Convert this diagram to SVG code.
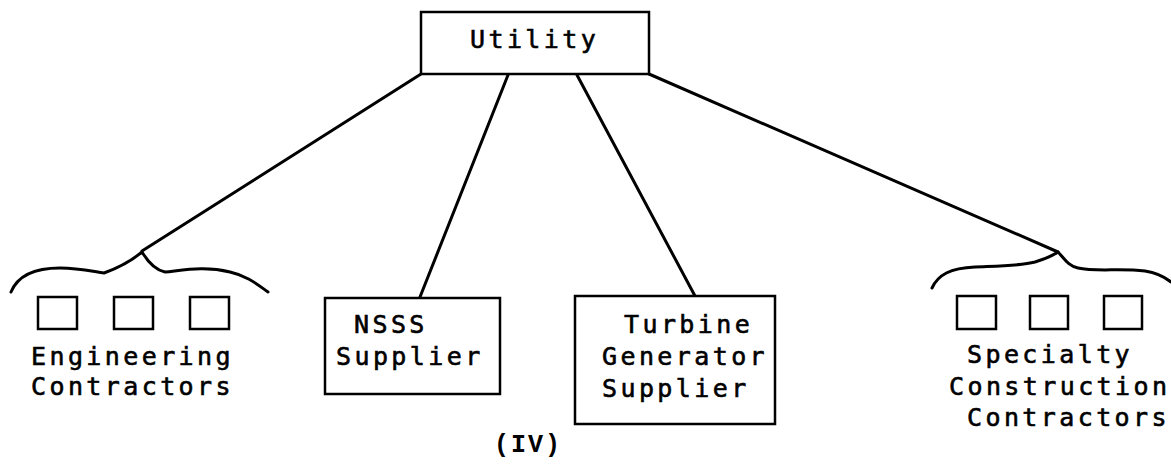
<svg xmlns="http://www.w3.org/2000/svg" width="1171" height="465" viewBox="0 0 1171 465">
<style>
.bx{fill:#fff;stroke:#000;stroke-width:2.5}
.sq{fill:none;stroke:#000;stroke-width:2.5}
.ln{fill:none;stroke:#000;stroke-width:3;stroke-linecap:round;stroke-linejoin:round}
.t{font-family:"DejaVu Sans Mono","Liberation Mono",monospace;font-size:25px;letter-spacing:3.4px;fill:#000;stroke:#000;stroke-width:0.6}
.iv{font-family:"Liberation Mono","DejaVu Sans Mono",monospace;font-size:25px;font-weight:bold;letter-spacing:2px;fill:#000}
</style>
<rect width="1171" height="465" fill="#fff"/>
<g id="connectors">
<line class="ln" x1="421" y1="74" x2="142" y2="251"/>
<line class="ln" x1="508" y1="75" x2="420" y2="297"/>
<line class="ln" x1="577" y1="75" x2="695" y2="296"/>
<line class="ln" x1="649" y1="74" x2="1058" y2="252"/>
</g>
<g id="utility">
<rect class="bx" x="421" y="12" width="228" height="62"/>
<text class="t" x="470" y="48">Utility</text>
</g>
<g id="engineering">
<path class="ln" d="M11,292 C18,275 35,268 60,268 C80,268 95,272 104,273 C118,268 130,262 142,252 C148,262 155,270 165,272 C185,270 205,266 230,272 C248,276 258,285 268,292"/>
<rect class="sq" x="38" y="297" width="39" height="32"/>
<rect class="sq" x="114" y="297" width="39" height="32"/>
<rect class="sq" x="190" y="297" width="39" height="32"/>
<text class="t" x="31" y="365">Engineering</text>
<text class="t" x="31" y="395">Contractors</text>
</g>
<g id="nsss">
<rect class="bx" x="325" y="298" width="175" height="96"/>
<text class="t" x="354" y="333">NSSS</text>
<text class="t" x="336" y="365">Supplier</text>
</g>
<g id="turbine">
<rect class="bx" x="575" y="296" width="200" height="128"/>
<text class="t" x="624" y="333">Turbine</text>
<text class="t" x="602" y="365">Generator</text>
<text class="t" x="602" y="397">Supplier</text>
</g>
<g id="specialty">
<path class="ln" d="M932,288 C938,275 950,268 975,267 C1000,266 1020,266 1035,262 C1045,259 1052,256 1058,252 C1064,258 1068,266 1078,268 C1095,272 1120,268 1145,271 C1158,273 1166,278 1171,282"/>
<rect class="sq" x="957" y="296" width="39" height="33"/>
<rect class="sq" x="1030" y="296" width="38" height="33"/>
<rect class="sq" x="1104" y="296" width="38" height="33"/>
<text class="t" x="967" y="363">Specialty</text>
<text class="t" x="949" y="395">Construction</text>
<text class="t" x="967" y="426">Contractors</text>
</g>
<text class="iv" x="494" y="452">(IV)</text>
</svg>
